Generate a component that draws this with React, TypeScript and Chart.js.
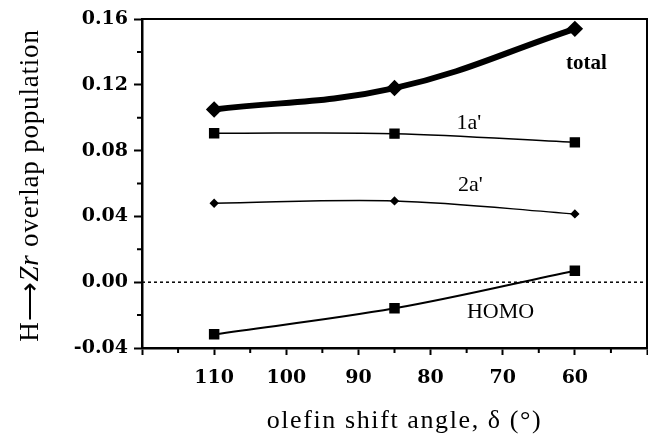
import React, { useEffect, useRef } from "react";
import { Chart, registerables } from "chart.js";

Chart.register(...registerables);

// ---- data ----
const angles = [110, 85, 60];
const totalPop = [0.105, 0.118, 0.154];
const a1Pop = [0.0905, 0.0903, 0.085];
const a2Pop = [0.048, 0.0494, 0.0415];
const homoPop = [-0.0317, -0.0159, 0.007];

const xTickLabels = [110, 100, 90, 80, 70, 60];
const xMinorTicks = [115, 105, 95, 85, 75, 65, 55];
const yTickLabels = [-0.04, 0.0, 0.04, 0.08, 0.12, 0.16];
const yMinorTicks = [-0.02, 0.02, 0.06, 0.1, 0.14];

const curveNames = ["total", "1a'", "2a'", "HOMO"];
const curveNameX = [58.4, 74.7, 74.5, 70.3];
const curveNameY = [0.133, 0.0968, 0.059, -0.018];

const xTitle = "olefin shift angle, δ (°)";
const yTitleParts = ["H⟶", "Zr", " overlap population"];

const SERIF = '"Liberation Serif", "Times New Roman", serif';
const TICKFONT = '"DejaVu Serif", "Liberation Serif", serif';

const toPoints = (ys: number[]) => angles.map((x, i) => ({ x, y: ys[i] }));

const decorPlugin = {
  id: "decor",
  beforeDatasetsDraw(chart: any) {
    const { ctx, chartArea, scales } = chart;
    const y0 = scales.y.getPixelForValue(0);
    ctx.save();
    ctx.strokeStyle = "#000";
    ctx.lineWidth = 1.5;
    ctx.setLineDash([3, 3]);
    ctx.beginPath();
    ctx.moveTo(chartArea.left, y0);
    ctx.lineTo(chartArea.right, y0);
    ctx.stroke();
    ctx.restore();
  },
  afterDraw(chart: any) {
    const { ctx, chartArea, scales } = chart;
    ctx.save();
    ctx.strokeStyle = "#000";
    // top & right frame
    ctx.lineWidth = 2;
    ctx.beginPath();
    ctx.moveTo(chartArea.left, chartArea.top);
    ctx.lineTo(chartArea.right, chartArea.top);
    ctx.lineTo(chartArea.right, chartArea.bottom);
    ctx.stroke();
    // minor ticks
    ctx.lineWidth = 2;
    ctx.beginPath();
    yMinorTicks.forEach((v) => {
      const p = scales.y.getPixelForValue(v);
      ctx.moveTo(chartArea.left - 5, p);
      ctx.lineTo(chartArea.left, p);
    });
    xMinorTicks.forEach((v) => {
      const p = scales.x.getPixelForValue(v);
      ctx.moveTo(p, chartArea.bottom);
      ctx.lineTo(p, chartArea.bottom + 5);
    });
    ctx.stroke();
    // curve names
    ctx.fillStyle = "#000";
    ctx.textAlign = "center";
    ctx.textBaseline = "middle";
    curveNames.forEach((t, i) => {
      ctx.font = i === 0 ? `bold 21px ${SERIF}` : `22px ${SERIF}`;
      ctx.fillText(
        t,
        scales.x.getPixelForValue(curveNameX[i]),
        scales.y.getPixelForValue(curveNameY[i])
      );
    });

    // x axis title
    (ctx as any).letterSpacing = "1.6px";
    ctx.font = `26px ${SERIF}`;
    ctx.fillText(xTitle, (chartArea.left + chartArea.right) / 2 + 10, chart.height - 16);

    // y axis title (rotated, with italic Zr)
    (ctx as any).letterSpacing = "0.8px";
    const fonts = [`27px ${SERIF}`, `italic 27px ${SERIF}`, `27px ${SERIF}`];
    const widths = yTitleParts.map((p, i) => {
      ctx.font = fonts[i];
      return ctx.measureText(p).width;
    });
    const total = widths.reduce((a, b) => a + b, 0);
    ctx.translate(31, (chartArea.top + chartArea.bottom) / 2 + 2);
    ctx.rotate(-Math.PI / 2);
    ctx.textAlign = "left";
    let cx = -total / 2;
    yTitleParts.forEach((p, i) => {
      ctx.font = fonts[i];
      ctx.fillText(p, cx, 0);
      cx += widths[i];
    });
    ctx.restore();
  },
};

export default function App() {
  const ref = useRef<HTMLCanvasElement | null>(null);

  useEffect(() => {
    if (!ref.current) return;
    const common = {
      borderColor: "#000",
      backgroundColor: "#000",
      pointBorderColor: "#000",
      pointBackgroundColor: "#000",
      tension: 0.35,
      fill: false,
    };
    const chart = new Chart(ref.current, {
      type: "line",
      data: {
        datasets: [
          {
            ...common,
            label: "total",
            data: toPoints(totalPop),
            borderWidth: 6,
            pointStyle: "rectRot",
            pointRadius: 4,
            tension: 0.4,
          },
          {
            ...common,
            label: "1a'",
            data: toPoints(a1Pop),
            borderWidth: 1.5,
            pointStyle: "rect",
            pointRadius: 6.3,
          },
          {
            ...common,
            label: "2a'",
            data: toPoints(a2Pop),
            borderWidth: 1.5,
            pointStyle: "rectRot",
            pointRadius: 3.6,
          },
          {
            ...common,
            label: "HOMO",
            data: toPoints(homoPop),
            borderWidth: 2,
            pointStyle: "rect",
            pointRadius: 6,
          },
        ],
      },
      options: {
        responsive: false,
        animation: false,
        layout: { autoPadding: false, padding: { top: 19, right: 1, left: 0, bottom: 0 } },
        plugins: {
          legend: { display: false },
          tooltip: { enabled: false },
          title: { display: false },
        },
        scales: {
          x: {
            type: "linear",
            reverse: true,
            min: 50,
            max: 120,
            afterFit: (s: any) => {
              s.height = 89;
              s.paddingLeft = 0;
              s.paddingRight = 0;
            },
            border: { display: true, color: "#000", width: 2.5 },
            grid: {
              drawOnChartArea: false,
              drawTicks: true,
              tickLength: 7,
              tickWidth: 2,
              tickColor: "#000",
            },
            ticks: {
              stepSize: 10,
              padding: 12,
              color: "#000",
              font: { family: TICKFONT, size: 19, weight: "bold" },
              callback: (v: any) =>
                xTickLabels.includes(Math.round(Number(v))) ? String(Math.round(Number(v))) : "",
            },
            title: { display: false },
          },
          y: {
            type: "linear",
            min: -0.04,
            max: 0.16,
            afterFit: (s: any) => {
              s.width = 142;
            },
            border: { display: true, color: "#000", width: 2.5 },
            grid: {
              drawOnChartArea: false,
              drawTicks: true,
              tickLength: 8,
              tickWidth: 2,
              tickColor: "#000",
            },
            ticks: {
              stepSize: 0.04,
              padding: 6,
              color: "#000",
              font: { family: TICKFONT, size: 19, weight: "bold" },
              callback: (v: any) => {
                const n = Number(v);
                const hit = yTickLabels.find((t) => Math.abs(t - n) < 1e-6);
                return hit === undefined ? "" : hit.toFixed(2);
              },
            },
            title: { display: false },
          },
        },
      },
      plugins: [decorPlugin],
    } as any);
    return () => chart.destroy();
  }, []);

  return (
    <div
      style={{
        position: "fixed",
        left: 0,
        top: 0,
        width: 648,
        height: 437,
        background: "#fff",
        overflow: "hidden",
      }}
    >
      <canvas ref={ref} width={648} height={437} style={{ width: 648, height: 437 }} />
    </div>
  );
}
